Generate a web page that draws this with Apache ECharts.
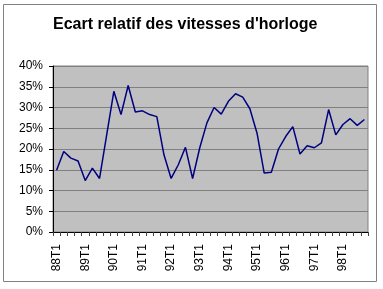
<!DOCTYPE html>
<html><head><meta charset="utf-8">
<script src="https://cdn.jsdelivr.net/npm/echarts@6/dist/echarts.min.js"></script>
<style>html,body{margin:0;padding:0;background:#fff}#c{width:383px;height:289px}</style>
</head><body><div id="c"></div>
<script>
const titleText = "Ecart relatif des vitesses d'horloge";
const years = ['88','89','90','91','92','93','94','95','96','97','98'];
const quarters = ['T1','T2','T3','T4'];
const categories = [];
years.forEach(y => quarters.forEach(q => categories.push(y + q)));
const values = [
  14.9, 19.4, 17.8, 17.1,
  12.4, 15.4, 12.9, 23.4,
  33.9, 28.3, 35.3, 28.9,
  29.2, 28.3, 27.8, 18.6,
  12.9, 16.2, 20.4, 12.9,
  20.3, 26.3, 30.0, 28.4,
  31.5, 33.3, 32.5, 29.7,
  23.8, 14.2, 14.4, 20.0,
  23.0, 25.4, 18.8, 20.8,
  20.3, 21.5, 29.5, 23.4,
  25.9, 27.3, 25.7, 27.1
];
const yTicks = [0, 5, 10, 15, 20, 25, 30, 35, 40];

const chart = echarts.init(document.getElementById('c'), null, {renderer: 'canvas'});
chart.setOption({
  animation: false,
  title: {
    text: titleText, left: 48, top: 12,
    textStyle: {fontFamily: 'Liberation Sans, Arial', fontWeight: 'bold', fontSize: 16, color: '#000'}
  },
  graphic: [{
    type: 'rect', shape: {x: 3.5, y: 4.5, width: 373, height: 277},
    style: {fill: null, stroke: '#808080', lineWidth: 1}, z: -10
  }],
  grid: {left: 53, right: 15, top: 66, bottom: 57, show: true,
         backgroundColor: '#c0c0c0', borderColor: '#808080', borderWidth: 1},
  xAxis: {
    type: 'category', data: categories, boundaryGap: true,
    axisLine: {lineStyle: {color: '#000', width: 1}},
    axisTick: {show: true, interval: 0, length: 4, lineStyle: {color: '#404040'}},
    axisLabel: {
      rotate: 90, interval: 0, margin: 12,
      formatter: v => v.endsWith('T1') ? v : '',
      fontFamily: 'Liberation Sans, Arial', fontSize: 12, color: '#000'
    },
    splitLine: {show: false}
  },
  yAxis: {
    type: 'value', min: yTicks[0], max: yTicks[yTicks.length - 1], interval: 5,
    axisLine: {show: true, lineStyle: {color: '#000'}},
    axisTick: {show: true, length: 4, lineStyle: {color: '#000'}},
    axisLabel: {formatter: v => v + '%', margin: 10,
      fontFamily: 'Liberation Sans, Arial', fontSize: 12, color: '#000'},
    splitLine: {show: true, lineStyle: {color: '#808080', width: 1}}
  },
  series: [{
    type: 'line', data: values, showSymbol: false, symbol: 'none',
    lineStyle: {color: '#000080', width: 1.5}
  }]
});
</script></body></html>
